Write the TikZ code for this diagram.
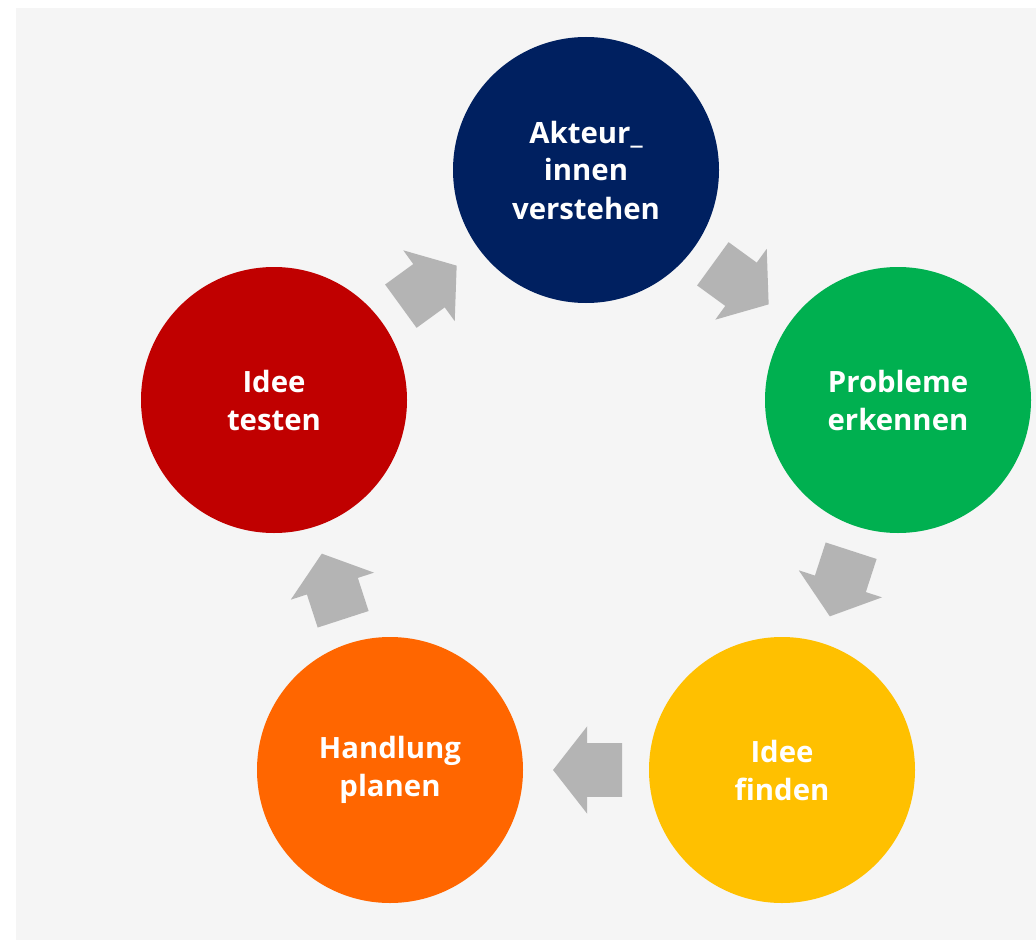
\documentclass[tikz,border=0pt]{standalone}
\usepackage{fontspec}
\setsansfont{Open Sans}
\usetikzlibrary{shapes.arrows,calc}

\definecolor{bgGray}{RGB}{245,245,245}
\definecolor{arrowGray}{RGB}{180,180,180}
\definecolor{navyBlue}{RGB}{0,32,96}
\definecolor{lightGreen}{RGB}{0,176,80}
\definecolor{goldYellow}{RGB}{255,192,0}
\definecolor{brightOrange}{RGB}{255,102,0}
\definecolor{darkRed}{RGB}{192,0,0}

\tikzset{
  stage/.style={circle, minimum size=199.5pt, inner sep=0pt, text=white, align=center,
    font=\sffamily\bfseries\fontsize{22}{28.5}\selectfont},
  cyclearrow/.style={single arrow, fill=arrowGray, draw=none,
    inner xsep=0pt, inner ysep=19.875pt, minimum height=51.75pt,
    single arrow head extend=12.75pt, single arrow tip angle=104,
    rotate=#1, xshift=-9pt}
}

\begin{document}
\begin{tikzpicture}[x=0.75pt,y=0.75pt,yscale=-1,xscale=1]
    \useasboundingbox (0,0) rectangle (1036,942);
    \fill [bgGray] (16,8) rectangle (1036,940);

    % the five stages
    \node [stage, fill=navyBlue] (akteure) at (586,170) {Akteur\_\\innen\\verstehen};
    \node [stage, fill=lightGreen] (probleme) at (898,400) {Probleme\\erkennen};
    \node [stage, fill=goldYellow] (idee) at (782,770) {Idee\\finden};
    \node [stage, fill=brightOrange] (handlung) at (390,770) {Handlung\\planen};
    \node [stage, fill=darkRed] (testen) at (274,400) {Idee\\testen};

    % arrows between stages
    \node [cyclearrow=-36] (arrowA) at ($(akteure)!0.5!(probleme)$) {};
    \node [cyclearrow=-108] (arrowB) at ($(probleme)!0.5!(idee)$) {};
    \node [cyclearrow=180] (arrowC) at ($(idee)!0.5!(handlung)$) {};
    \node [cyclearrow=108] (arrowD) at ($(handlung)!0.5!(testen)$) {};
    \node [cyclearrow=36] (arrowE) at ($(testen)!0.5!(akteure)$) {};

\end{tikzpicture}
\end{document}
